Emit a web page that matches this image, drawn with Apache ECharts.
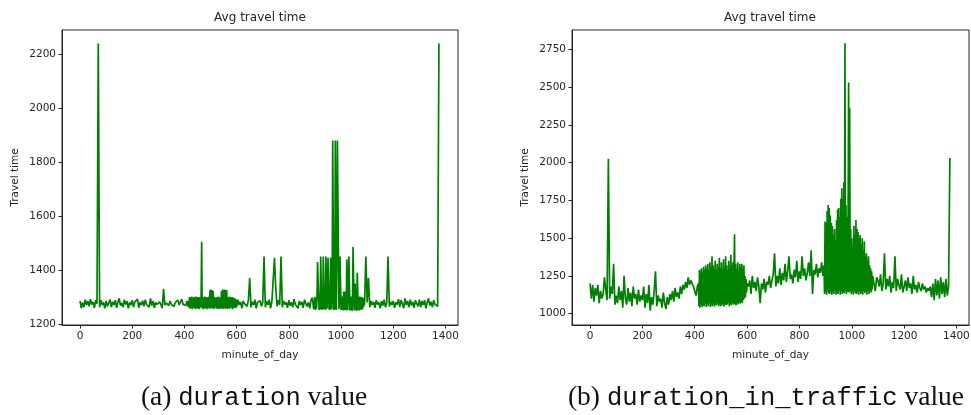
<!DOCTYPE html>
<html>
<head>
<meta charset="utf-8">
<script src="https://cdn.jsdelivr.net/npm/echarts@6/dist/echarts.min.js"></script>
<style>
  html, body { margin: 0; padding: 0; background: #fff; }
  #echart { width: 971px; height: 415px; }
</style>
</head>
<body>
<div id="echart"></div>
<script>
// values; quiet stretches every 5 min, busy stretches every 2 min

// (a) duration
var durA = [ // 0..415, step 5
  1285,1258,1280,1262,1290,1270,1285,1265,1292,1272,1282,1260,1288,1275,2240,1262,1288,1270,1280,1258,
  1285,1265,1278,1290,1262,1282,1270,1288,1260,1280,1295,1268,1278,1262,1290,1272,1284,1258,1280,1270,
  1288,1262,1282,1275,1292,1260,1280,1270,1286,1265,1290,1272,1278,1262,1295,1268,1285,1260,1280,1272,
  1265,1282,1272,1258,1330,1270,1278,1280,1268,1285,1272,1278,1265,1280,1275,1288,1270,1282,1292,1272,
  1278,1268,1285,1262
];
var durBusyA = [ // 420..598, step 2
  1300,1256,1298,1260,1302,1255,1296,1262,1300,1258,
  1298,1255,1302,1260,1296,1256,1300,1258,1298,1255,
  1300,1262,1296,1505,1258,1300,1255,1298,1260,1302,
  1256,1298,1258,1300,1255,1296,1260,1302,1258,1325,
  1256,1328,1260,1325,1258,1322,1255,1300,1258,1296,
  1262,1300,1256,1298,1258,1302,1255,1296,1260,1300,
  1256,1322,1258,1328,1255,1325,1260,1328,1256,1325,
  1258,1326,1255,1300,1260,1298,1256,1302,1258,1296,
  1262,1300,1255,1298,1258,1296,1262,1294,1258,1290
];
var durB = [ // 600..895, step 5
  1262,1290,1270,1282,1258,1285,1275,1280,1265,1288,1370,1262,1282,1270,1290,1258,1280,1275,1286,1265,
  1280,1450,1262,1285,1270,1290,1258,1282,1275,1445,1330,1265,1288,1270,1450,1262,1285,1272,1280,1260,
  1288,1268,1280,1262,1292,1272,1278,1258,1285,1270,1282,1260,1290,1275,1265,1280,1258,1288,1298,1255
];
var durBusyB = [ // 900..1088, step 2
  1300,1252,1298,1256,1302,1430,1430,1300,1252,1298,
  1255,1450,1450,1252,1300,1254,1450,1450,1255,1298,
  1252,1450,1450,1256,1300,1445,1445,1254,1298,1252,
  1445,1445,1255,1300,1880,1880,1252,1300,1254,1880,
  1880,1252,1450,1880,1880,1450,1255,1300,1450,1450,
  1252,1298,1255,1302,1250,1320,1322,1252,1320,1298,
  1250,1440,1440,1252,1322,1450,1450,1250,1300,1252,
  1302,1248,1300,1485,1485,1250,1298,1350,1252,1300,
  1248,1390,1390,1252,1300,1250,1302,1255,1298,1252,
  1300,1255,1296,1262,1285
];
var durC = [ // 1090..1375, step 5
  1270,1450,1280,1370,
  1262,1285,1270,1282,1260,1288,1272,1280,1258,1285,1268,1290,1262,1278,1450,1265,1282,1270,
  1285,1260,1280,1272,1292,1262,1288,1275,1258,1295,1270,1285,1262,1290,1268,1282,1260,1288,1275,1265,
  1290,1262,1285,1270,1288,1258,1280,1295,1268,1282,1262,1288,1272,1278,1265,2240
];

// (b) duration_in_traffic
var trA = [ // 0..410, step 5
  1200,1100,1190,1080,1170,1120,1190,1070,1150,1100,1130,1240,1160,1090,2025,1100,1180,1130,1330,1060,
  1120,1070,1180,1090,1150,1040,1250,1100,1060,1170,1080,1140,1050,1180,1100,1130,1060,1160,1080,1120,
  1090,1180,1040,1130,1070,1190,1020,1110,1060,1150,1280,1050,1120,1080,1100,1040,1140,1070,1030,1110,
  1060,1130,1090,1150,1080,1170,1110,1140,1100,1180,1130,1190,1160,1210,1170,1240,1190,1220,1200,1180,
  1150,1120,1180
];
var trBusyA = [ // 414..600, step 2
  1200,1050,1290,1040,1280,1060,1300,1045,1270,1055,
  1310,1050,1290,1065,1320,1045,1300,1060,1330,1050,
  1290,1070,1340,1045,1310,1060,1380,1050,1320,1065,
  1300,1048,1350,1060,1290,1055,1330,1070,1310,1050,
  1370,1060,1300,1050,1340,1065,1290,1055,1360,1048,
  1310,1065,1380,1055,1320,1060,1290,1070,1350,1050,
  1300,1062,1390,1055,1320,1070,1340,1060,1310,1525,
  1060,1330,1055,1300,1070,1340,1060,1290,1075,1330,
  1065,1310,1080,1330,1070,1300,1090,1320,1100,1250,
  1110,1230,1140,1200
];
var trB = [ // 605..890, step 5
  1180,1220,1130,1250,1170,1210,1150,1240,1180,1070,1200,1160,1230,1140,1210,1190,1250,1170,1220,
  1260,1400,1180,1250,1200,1300,1190,1270,1220,1330,1210,1280,1380,1230,1260,1200,1290,1240,1350,1210,
  1280,1230,1380,1250,1300,1220,1270,1340,1250,1420,1130,1290,1260,1330,1240,1300,1270,1340,1250
];
var trBusyB = [ // 894..1080, step 2
  1320,1130,1610,1140,1600,1125,1680,1150,1720,1135,
  1700,1130,1650,1145,1600,1125,1580,1140,1520,1130,
  1560,1150,1480,1125,1620,1140,1690,1130,1700,1150,
  1640,1125,1760,1145,1830,1130,1760,1140,1870,1135,
  2790,1150,1720,1130,1640,1145,1600,2530,1140,2360,
  1150,1560,1130,1500,1145,1450,1125,1580,1150,1520,
  1135,1620,1130,1560,1145,1540,1125,1500,1150,1520,
  1130,1460,1140,1500,1125,1420,1150,1480,1135,1380,
  1145,1400,1125,1350,1150,1380,1130,1320,1155,1300,
  1140,1280,1160,1250
];
var trC = [ // 1085..1375, step 5
  1200,1150,1240,
  1220,1180,1260,1150,1200,1400,1160,1230,1180,1250,1140,1210,1170,1380,1150,1230,1190,1160,1260,1140,
  1180,1220,1150,1240,1170,1200,1130,1250,1160,1190,1140,1210,1170,1150,1200,1160,1180,1140,1170,1150,
  1180,1110,1200,1090,1230,1120,1220,1100,1240,1130,1210,1110,1230,1120,1180,2030
];

var xTicks = [0, 200, 400, 600, 800, 1000, 1200, 1400];
var yTicksA = [1200, 1400, 1600, 1800, 2000, 2200];
var yTicksB = [1000, 1250, 1500, 1750, 2000, 2250, 2500, 2750];

// [first minute, step, values]
function build(parts) {
  var out = [];
  parts.forEach(function (p) {
    for (var i = 0; i < p[2].length; i++) out.push([p[0] + i * p[1], p[2][i]]);
  });
  return out;
}

var durationData = build([[0, 5, durA], [420, 2, durBusyA], [600, 5, durB], [900, 2, durBusyB], [1090, 5, durC]]);
var trafficData = build([[0, 5, trA], [414, 2, trBusyA], [605, 5, trB], [894, 2, trBusyB], [1085, 5, trC]]);

var myChart = echarts.init(document.getElementById("echart"));

var axisColor = '#262626';
var labelFont = { color: '#262626', fontSize: 10.5, fontFamily: 'DejaVu Sans' };
var plain = function (v) { return String(v); };

function xAxisFor(idx) {
  return {
    type: 'value', gridIndex: idx, min: -69, max: 1448,
    name: 'minute_of_day', nameLocation: 'middle', nameGap: 25,
    nameTextStyle: labelFont,
    splitLine: { show: false },
    axisLine: { show: true, onZero: false, lineStyle: { color: axisColor, width: 1 } },
    axisTick: { show: true, inside: false, length: 3.5, lineStyle: { color: axisColor }, customValues: xTicks },
    axisLabel: Object.assign({ margin: 6, customValues: xTicks, formatter: plain }, labelFont)
  };
}

function yAxisFor(idx, min, max, ticks) {
  return {
    type: 'value', gridIndex: idx, min: min, max: max,
    name: 'Travel time', nameLocation: 'middle', nameGap: 41, nameRotate: 90,
    nameTextStyle: labelFont,
    splitLine: { show: false },
    axisLine: { show: true, onZero: false, lineStyle: { color: axisColor, width: 1 } },
    axisTick: { show: true, inside: false, length: 3.5, lineStyle: { color: axisColor }, customValues: ticks },
    axisLabel: Object.assign({ margin: 6, customValues: ticks, formatter: plain }, labelFont)
  };
}

option = {
  animation: false,
  backgroundColor: '#fff',
  grid: [
    { left: 62, top: 30, width: 396, height: 295, show: true, borderColor: axisColor, borderWidth: 1, outerBoundsMode: 'none' },
    { left: 572, top: 30, width: 397, height: 295, show: true, borderColor: axisColor, borderWidth: 1, outerBoundsMode: 'none' }
  ],
  xAxis: [xAxisFor(0), xAxisFor(1)],
  yAxis: [yAxisFor(0, 1196, 2290, yTicksA), yAxisFor(1, 925, 2878, yTicksB)],
  series: [
    {
      type: 'line', xAxisIndex: 0, yAxisIndex: 0,
      data: durationData, showSymbol: false,
      lineStyle: { color: '#008000', width: 1.7 }
    },
    {
      type: 'line', xAxisIndex: 1, yAxisIndex: 1,
      data: trafficData, showSymbol: false,
      lineStyle: { color: '#008000', width: 1.7 }
    }
  ],
  graphic: [
    { type: 'text', x: 260, y: 18, style: { text: 'Avg travel time', fill: '#262626', font: '12px "DejaVu Sans"', align: 'center', verticalAlign: 'middle' } },
    { type: 'text', x: 770, y: 18, style: { text: 'Avg travel time', fill: '#262626', font: '12px "DejaVu Sans"', align: 'center', verticalAlign: 'middle' } },
    { type: 'text', x: 254, y: 398, style: {
        text: '{s|(a) }{m|duration}{s| value}', align: 'center', verticalAlign: 'middle',
        rich: { s: { fontFamily: 'Liberation Serif', fontSize: 27.5, fill: '#111' }, m: { fontFamily: 'Liberation Mono', fontSize: 25.5, fill: '#111' } } } },
    { type: 'text', x: 766, y: 398, style: {
        text: '{s|(b) }{m|duration_in_traffic}{s| value}', align: 'center', verticalAlign: 'middle',
        rich: { s: { fontFamily: 'Liberation Serif', fontSize: 27.5, fill: '#111' }, m: { fontFamily: 'Liberation Mono', fontSize: 25.5, fill: '#111' } } } }
  ]
};

myChart.setOption(option);
</script>
</body>
</html>
